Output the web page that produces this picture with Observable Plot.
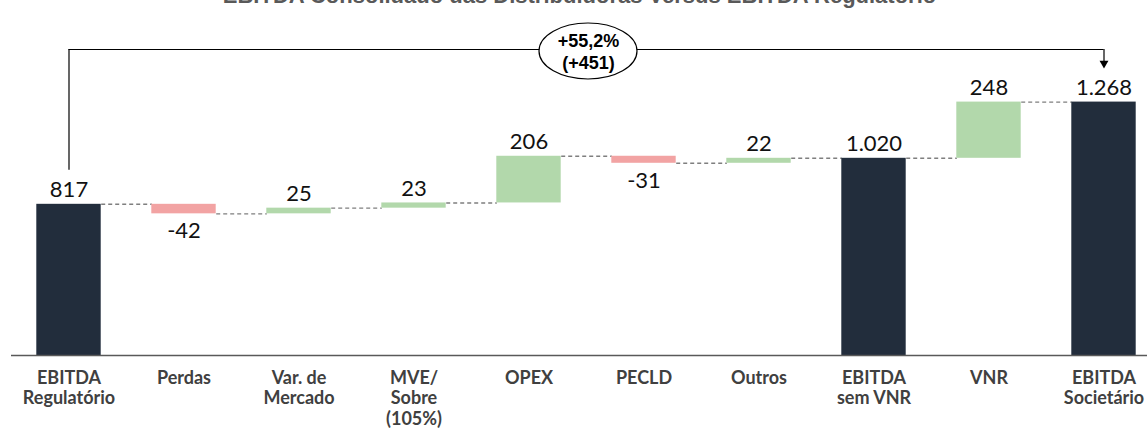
<!DOCTYPE html>
<html><head><meta charset="utf-8">
<script src="https://cdn.jsdelivr.net/npm/d3@7"></script>
<script src="https://cdn.jsdelivr.net/npm/@observablehq/plot@0.6"></script>
<style>
html,body{margin:0;padding:0;background:#fff;overflow:hidden;width:1147px;height:431px;}
#wrap{position:relative;width:1147px;height:431px;overflow:hidden;}
#title{position:absolute;left:6px;top:-15px;width:1147px;text-align:center;font:bold 22px "Liberation Sans",Arial,sans-serif;line-height:22px;color:#595959;z-index:2;white-space:nowrap;}
#chart{position:absolute;left:0;top:0;}
</style></head><body>
<div id="wrap"><div id="title">EBITDA Consolidado das Distribuidoras Versus EBITDA Regulatório</div><div id="chart"></div></div>
<script>
const categories = ["EBITDA\nRegulatório","Perdas","Var. de\nMercado","MVE/\nSobre\n(105%)","OPEX","PECLD","Outros","EBITDA\nsem VNR","VNR","EBITDA\nSocietário"];
const values = [817, -42, 25, 23, 206, -31, 22, 1020, 248, 1268];
const kinds = ["total","delta","delta","delta","delta","delta","delta","total","delta","total"];
const yDomain = [150, 1500];
const bracketLevel = 1500;

const BAR_HALF = 0.28;
const COLORS = {total: "#222d3c", up: "#b2d8ab", down: "#f2a3a3"};

const fmt = d3.formatLocale({decimal: ",", thousands: ".", grouping: [3], currency: ["", ""], minus: "-"});
const fmtInt = fmt.format(",d");
const fmtPct = fmt.format("+.1f");

let level = 0;
const rows = categories.map((cat, i) => {
  const v = values[i];
  let lo, hi, color;
  if (kinds[i] === "total") {
    lo = yDomain[0]; hi = v; level = v; color = COLORS.total;
  } else {
    const start = level; const end = level + v;
    lo = Math.min(start, end); hi = Math.max(start, end); level = end;
    color = v >= 0 ? COLORS.up : COLORS.down;
  }
  return {i, cat, v, lo, hi, level, color, kind: kinds[i], label: fmtInt(v)};
});
const links = rows.slice(0, -1).map(d => ({i: d.i, level: d.level}));
const above = rows.filter(d => d.kind === "total" || d.v >= 0);
const below = rows.filter(d => d.kind !== "total" && d.v < 0);

const first = values[0], last = values[values.length - 1];
const bracketText = `${fmtPct((last / first - 1) * 100)}%\n(+${fmtInt(last - first)})`;
const mid = (rows.length - 1) / 2;

function ellipseMark(index, scales) {
  const el = document.createElementNS("http://www.w3.org/2000/svg", "ellipse");
  el.setAttribute("cx", scales.x(mid) + 2);
  el.setAttribute("cy", scales.y(bracketLevel) + 2);
  el.setAttribute("rx", 49);
  el.setAttribute("ry", 28);
  el.setAttribute("fill", "white");
  el.setAttribute("stroke", "black");
  el.setAttribute("stroke-width", 1.2);
  return el;
}

const chart = Plot.plot({
  width: 1161,
  height: 431,
  marginLeft: 11,
  marginRight: 0,
  marginTop: 49,
  marginBottom: 76,
  style: {maxWidth: "none", fontFamily: "Lato, sans-serif", background: "transparent"},
  x: {domain: [-0.5, categories.length - 0.5], axis: null},
  y: {domain: yDomain, axis: null},
  color: {type: "identity"},
  marks: [
    Plot.link(links, {x1: d => d.i + BAR_HALF, x2: d => d.i + 1 - BAR_HALF, y1: "level", y2: "level",
      stroke: "#7f7f7f", strokeWidth: 1.4, strokeDasharray: "4 3"}),
    Plot.rectY(rows, {x1: d => d.i - BAR_HALF, x2: d => d.i + BAR_HALF, y1: "lo", y2: "hi", fill: "color"}),
    Plot.ruleY([yDomain[0]], {stroke: "#595959", strokeWidth: 1.5}),
    Plot.text(above, {x: "i", y: "hi", text: "label", lineAnchor: "bottom", dy: -7, fontSize: 22, fill: "#111"}),
    Plot.text(below, {x: "i", y: "lo", text: "label", lineAnchor: "top", dy: 9, fontSize: 22, fill: "#111"}),
    Plot.text(rows, {x: "i", frameAnchor: "bottom", text: "cat", lineAnchor: "top", dy: 13.5, lineHeight: 1.15,
      fontSize: 18, fontWeight: 700, fill: "#404040"}),
    Plot.ruleX([0], {x: d => d, y1: bracketLevel, y2: first, insetBottom: 34, stroke: "black", strokeWidth: 1.2}),
    Plot.ruleX([rows.length - 1], {x: d => d, y1: bracketLevel, y2: last, insetBottom: 36, stroke: "black", strokeWidth: 1.2}),
    Plot.ruleY([bracketLevel], {x1: 0, x2: rows.length - 1, stroke: "black", strokeWidth: 1.2}),
    Plot.dot([rows.length - 1], {x: d => d, y: last, dy: -38.7, symbol: "triangle", rotate: 180, r: 3.3, fill: "black", stroke: "none"}),
    ellipseMark,
    Plot.text([bracketText], {x: mid, y: bracketLevel, text: d => d, dy: 1.5, dx: 2, lineHeight: 1.2,
      fontSize: 18, fontWeight: 700, fontFamily: "Liberation Sans, Arial, sans-serif", fill: "black"})
  ]
});
document.getElementById("chart").appendChild(chart);
</script>
</body></html>
